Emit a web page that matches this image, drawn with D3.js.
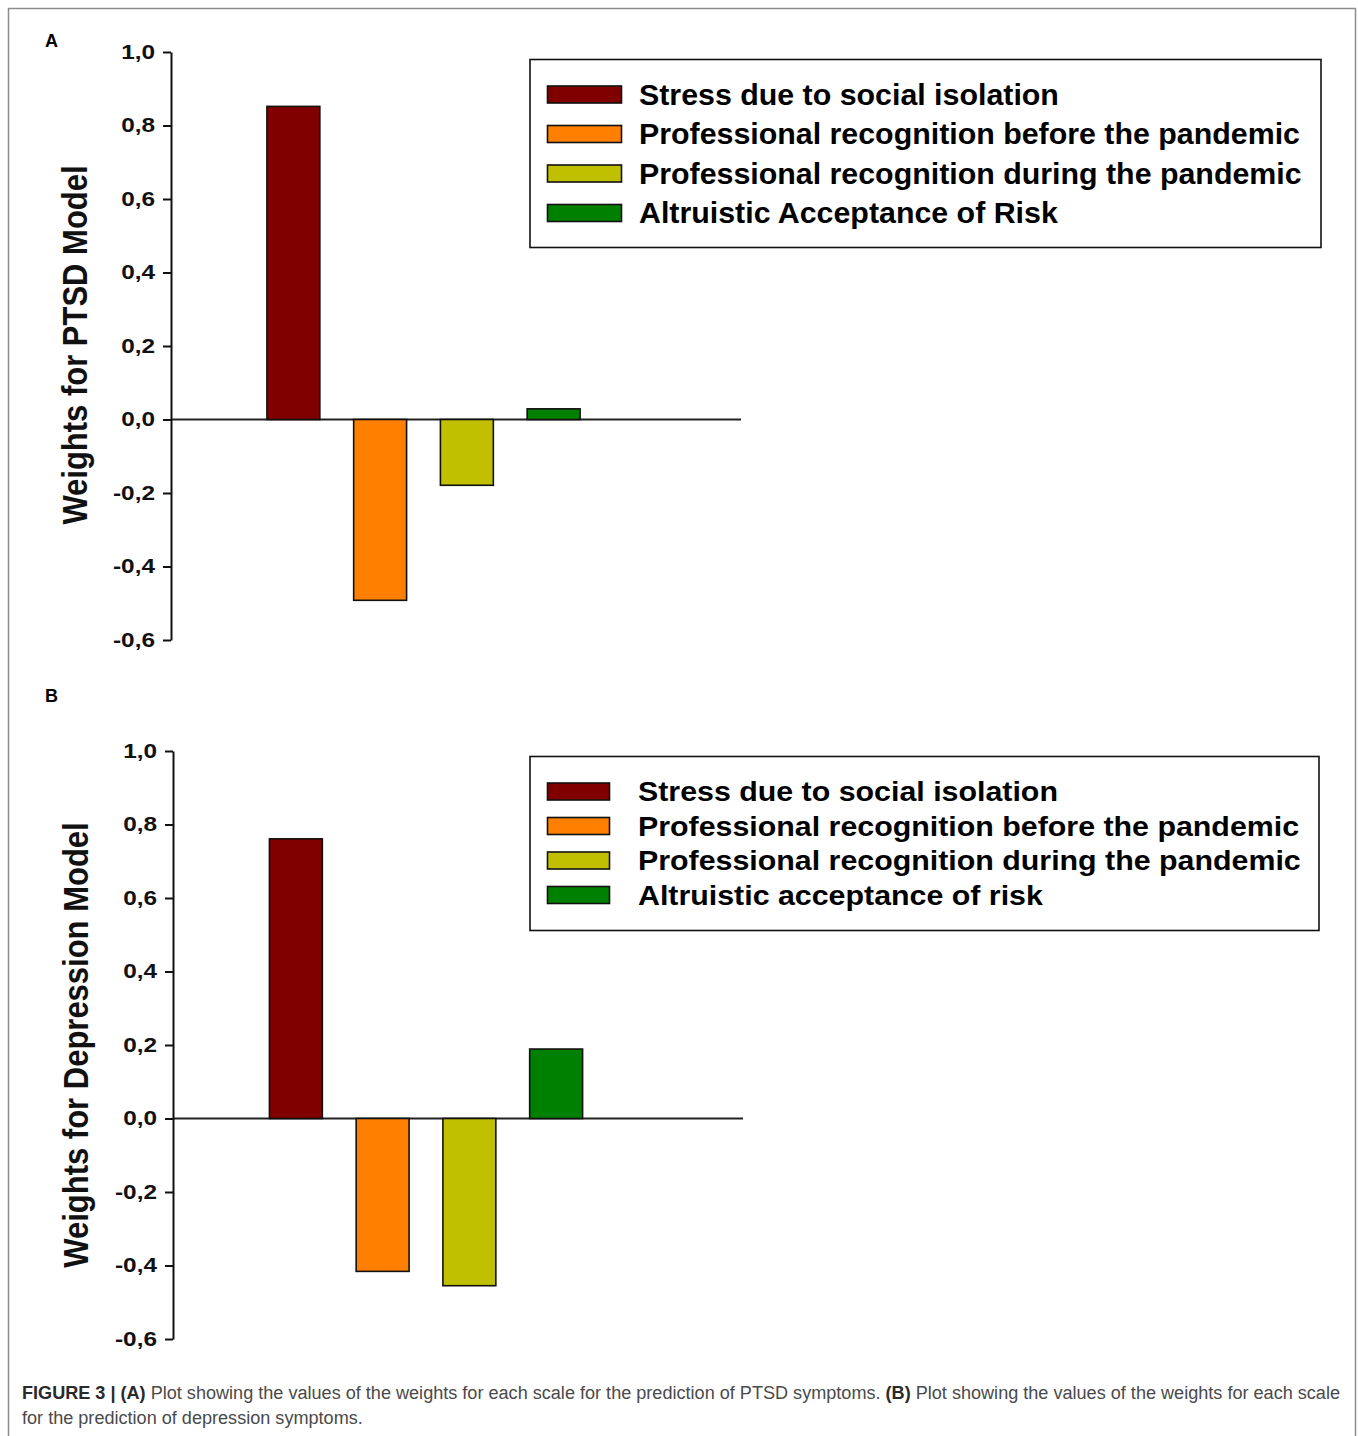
<!DOCTYPE html>
<html>
<head>
<meta charset="utf-8">
<script src="https://cdn.jsdelivr.net/npm/d3@7/dist/d3.min.js"></script>
<style>
  html, body { margin: 0; padding: 0; background: #fff; }
  svg { display: block; }
  text { font-family: "Liberation Sans", Arial, Helvetica, sans-serif; }
</style>
</head>
<body>
<svg id="chart" width="1358" height="1436"></svg>
<script>
// ---- data ----
const categoriesA = [
  "Stress due to social isolation",
  "Professional recognition before the pandemic",
  "Professional recognition during the pandemic",
  "Altruistic Acceptance of Risk"
];
const categoriesB = [
  "Stress due to social isolation",
  "Professional recognition before the pandemic",
  "Professional recognition during the pandemic",
  "Altruistic acceptance of risk"
];
const valuesA = [0.852, -0.492, -0.179, 0.029];
const valuesB = [0.761, -0.416, -0.455, 0.189];
const barColors = ["#800000", "#FF8000", "#C0C000", "#008000"];
const yTicks = [-0.6, -0.4, -0.2, 0.0, 0.2, 0.4, 0.6, 0.8, 1.0];
const yDomain = [-0.6, 1.0];
const titleA = "Weights for PTSD Model";
const titleB = "Weights for Depression Model";
const captionLine1 = [
  {t: "FIGURE 3 | (A)", b: true},
  {t: " Plot showing the values of the weights for each scale for the prediction of PTSD symptoms. ", b: false},
  {t: "(B)", b: true},
  {t: " Plot showing the values of the weights for each scale", b: false}
];
const captionLine2 = "for the prediction of depression symptoms.";

const svg = d3.select("#chart");

// outer frame
svg.append("rect")
  .attr("x", 8.5).attr("y", 8.5)
  .attr("width", 1347).attr("height", 1440)
  .attr("fill", "none").attr("stroke", "#8c8c8c").attr("stroke-width", 1.5);

function panel(cfg) {
  const g = svg.append("g");
  const y = d3.scaleLinear().domain(yDomain).range([cfg.yBottom, cfg.yTop]);
  const x = d3.scaleBand().domain(cfg.categories).range(cfg.bandRange)
    .paddingInner(0.39).paddingOuter(0.195);

  // panel letter
  g.append("text").attr("x", 45).attr("y", cfg.letterY)
    .attr("font-size", 18).attr("font-weight", "bold").text(cfg.letter);

  // zero line
  g.append("line")
    .attr("x1", cfg.axisX).attr("x2", cfg.zeroEnd)
    .attr("y1", y(0)).attr("y2", y(0))
    .attr("stroke", "#222").attr("stroke-width", 2);

  // bars
  g.selectAll("rect.bar").data(cfg.values).enter().append("rect")
    .attr("class", "bar")
    .attr("x", (d, i) => x(cfg.categories[i]))
    .attr("width", x.bandwidth())
    .attr("y", d => y(Math.max(0, d)))
    .attr("height", d => Math.abs(y(d) - y(0)))
    .attr("fill", (d, i) => barColors[i])
    .attr("stroke", "#111").attr("stroke-width", 1.6);

  // y axis
  const sx = 1.25;
  const ax = g.append("g").attr("transform", `translate(${cfg.axisX},0)`)
    .call(d3.axisLeft(y).tickValues(yTicks).tickSize(8).tickSizeOuter(0).tickPadding(8)
      .tickFormat(d => d.toFixed(1).replace(".", ",")));
  ax.select(".domain").attr("stroke", "#111").attr("stroke-width", 2);
  ax.selectAll(".tick line").attr("stroke", "#111").attr("stroke-width", 2);
  ax.selectAll(".tick text")
    .attr("font-family", "'Liberation Sans', Arial, sans-serif")
    .attr("font-size", 19.5).attr("font-weight", "bold").attr("fill", "#111")
    .attr("x", -16 / sx)
    .attr("transform", `scale(${sx},1)`);

  // y title
  g.append("text")
    .attr("transform", `translate(${cfg.titleX},${cfg.titleY}) scale(1.13,1) rotate(-90)`)
    .attr("text-anchor", "middle")
    .attr("font-size", 31).attr("font-weight", "bold").attr("fill", "#111")
    .text(cfg.title);

  // legend
  const L = cfg.legend;
  g.append("rect").attr("x", L.x).attr("y", L.y).attr("width", L.w).attr("height", L.h)
    .attr("fill", "#fff").attr("stroke", "#111").attr("stroke-width", 1.6);
  const rows = g.selectAll("g.lg").data(cfg.categories).enter().append("g")
    .attr("transform", (d, i) => `translate(0,${L.row0 + i * L.dy})`);
  rows.append("rect")
    .attr("x", L.sx).attr("y", -L.sh / 2).attr("width", L.sw).attr("height", L.sh)
    .attr("fill", (d, i) => barColors[i]).attr("stroke", "#111").attr("stroke-width", 1.6);
  const texts = rows.append("text")
    .attr("x", 0).attr("y", L.fs * 0.36)
    .attr("font-size", L.fs).attr("font-weight", "bold").attr("fill", "#000")
    .text(d => d);
  // stretch labels so the longest one spans the measured width
  let maxW = 0;
  texts.each(function() { maxW = Math.max(maxW, this.getComputedTextLength()); });
  const k = L.textW / maxW;
  texts.attr("transform", `translate(${L.tx},0) scale(${k},1)`);
}

panel({
  letter: "A", letterY: 47,
  categories: categoriesA, values: valuesA,
  yTop: 52, yBottom: 640, axisX: 171, zeroEnd: 741,
  bandRange: [250, 597],
  title: titleA, titleX: 87, titleY: 345,
  legend: {x: 530, y: 59.5, w: 791, h: 188, row0: 94.5, dy: 39.5,
           sx: 547.5, sw: 74, sh: 17, tx: 639, fs: 29, textW: 663}
});

panel({
  letter: "B", letterY: 702,
  categories: categoriesB, values: valuesB,
  yTop: 751, yBottom: 1339, axisX: 173, zeroEnd: 743,
  bandRange: [252.5, 599.5],
  title: titleB, titleX: 88, titleY: 1045,
  legend: {x: 530, y: 756.5, w: 789, h: 174, row0: 791.5, dy: 34.5,
           sx: 547.5, sw: 62, sh: 17, tx: 638, fs: 27, textW: 663}
});

// caption
const cap1 = svg.append("text").attr("x", 22).attr("y", 1399)
  .attr("font-size", 18).attr("fill", "#4a4a4a");
cap1.selectAll("tspan").data(captionLine1).enter().append("tspan")
  .attr("font-weight", d => d.b ? "bold" : "normal")
  .attr("fill", d => d.b ? "#2a2a2a" : "#4a4a4a")
  .text(d => d.t);
const w1 = cap1.node().getComputedTextLength();
const capK = 1318 / w1;
cap1.attr("textLength", 1318).attr("lengthAdjust", "spacingAndGlyphs");
const cap2 = svg.append("text").attr("x", 22).attr("y", 1424)
  .attr("font-size", 18).attr("fill", "#4a4a4a").text(captionLine2);
const w2 = cap2.node().getComputedTextLength();
cap2.attr("textLength", w2 * capK).attr("lengthAdjust", "spacingAndGlyphs");
</script>
</body>
</html>
